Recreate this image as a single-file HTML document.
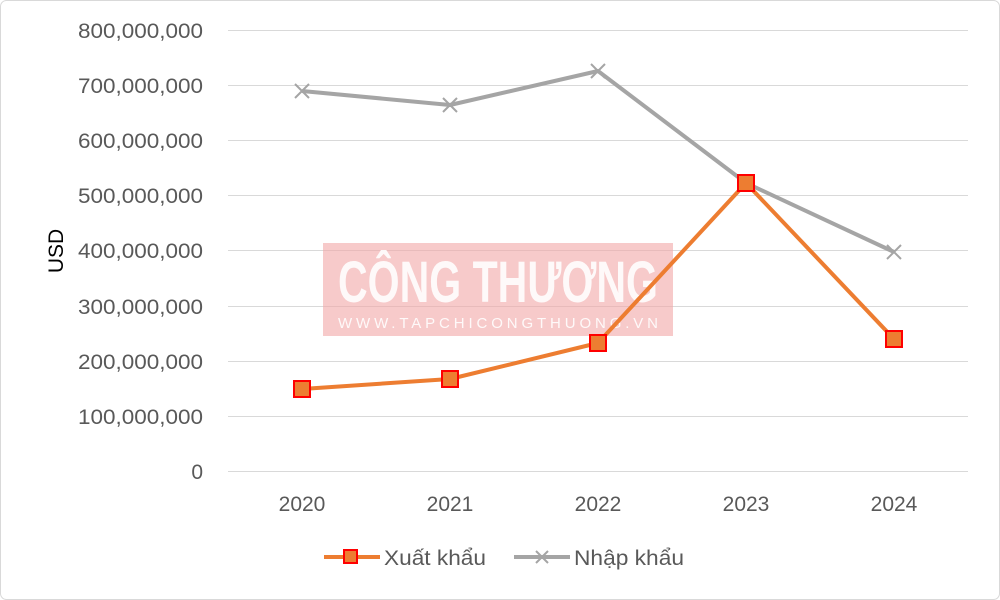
<!DOCTYPE html>
<html><head><meta charset="utf-8"><style>
html,body{margin:0;padding:0;background:#fff;}
svg{display:block;font-family:"Liberation Sans","DejaVu Sans",sans-serif;}
</style></head><body>
<svg width="1000" height="600" viewBox="0 0 1000 600" xmlns="http://www.w3.org/2000/svg">
<rect x="0.5" y="0.5" width="999" height="599" rx="6" fill="#fff" stroke="#d9d9d9"/>
<g stroke="#d9d9d9" stroke-width="1">
<line x1="228" x2="968" y1="30.5" y2="30.5"/>
<line x1="228" x2="968" y1="85.5" y2="85.5"/>
<line x1="228" x2="968" y1="140.5" y2="140.5"/>
<line x1="228" x2="968" y1="195.5" y2="195.5"/>
<line x1="228" x2="968" y1="250.5" y2="250.5"/>
<line x1="228" x2="968" y1="306.5" y2="306.5"/>
<line x1="228" x2="968" y1="361.5" y2="361.5"/>
<line x1="228" x2="968" y1="416.5" y2="416.5"/>
<line x1="228" x2="968" y1="471.5" y2="471.5"/>
</g>
<g font-size="21" fill="#595959" text-anchor="end">
<text x="203" y="38" textLength="125" lengthAdjust="spacingAndGlyphs">800,000,000</text>
<text x="203" y="93" textLength="125" lengthAdjust="spacingAndGlyphs">700,000,000</text>
<text x="203" y="148" textLength="125" lengthAdjust="spacingAndGlyphs">600,000,000</text>
<text x="203" y="203" textLength="125" lengthAdjust="spacingAndGlyphs">500,000,000</text>
<text x="203" y="258" textLength="125" lengthAdjust="spacingAndGlyphs">400,000,000</text>
<text x="203" y="314" textLength="125" lengthAdjust="spacingAndGlyphs">300,000,000</text>
<text x="203" y="369" textLength="125" lengthAdjust="spacingAndGlyphs">200,000,000</text>
<text x="203" y="424" textLength="125" lengthAdjust="spacingAndGlyphs">100,000,000</text>
<text x="203" y="479">0</text>
</g>
<g font-size="21" fill="#595959" text-anchor="middle">
<text x="302" y="511">2020</text>
<text x="450" y="511">2021</text>
<text x="598" y="511">2022</text>
<text x="746" y="511">2023</text>
<text x="894" y="511">2024</text>
</g>
<text transform="translate(63,251) rotate(-90)" font-size="21" fill="#000" text-anchor="middle">USD</text>
<rect x="323" y="243" width="350" height="93" fill="#f2a7a7" opacity="0.6"/>
<text x="498" y="302" font-size="58" font-weight="bold" fill="#fff" text-anchor="middle" textLength="320" lengthAdjust="spacingAndGlyphs" opacity="0.9">CÔNG THƯƠNG</text>
<text x="498" y="328" font-size="15" fill="#fff" text-anchor="middle" textLength="320" lengthAdjust="spacing" opacity="0.9">WWW.TAPCHICONGTHUONG.VN</text>
<polyline points="302,91 450,105 598,71 746,183 894,252" fill="none" stroke="#a5a5a5" stroke-width="4" stroke-linejoin="round"/>
<g stroke="#a5a5a5" stroke-width="2">
<path d="M295,84l14,14M309,84l-14,14"/>
<path d="M443,98l14,14M457,98l-14,14"/>
<path d="M591,64l14,14M605,64l-14,14"/>
<path d="M739,176l14,14M753,176l-14,14"/>
<path d="M887,245l14,14M901,245l-14,14"/>
</g>
<polyline points="302,389 450,379 598,343 746,183 894,339" fill="none" stroke="#ed7d31" stroke-width="4" stroke-linejoin="round"/>
<g fill="#ed7d31" stroke="#ff0000" stroke-width="2">
<rect x="294" y="381" width="16" height="16"/>
<rect x="442" y="371" width="16" height="16"/>
<rect x="590" y="335" width="16" height="16"/>
<rect x="738" y="175" width="16" height="16"/>
<rect x="886" y="331" width="16" height="16"/>
</g>
<line x1="324" y1="557" x2="380" y2="557" stroke="#ed7d31" stroke-width="4"/>
<rect x="344" y="550" width="13" height="13" fill="#ed7d31" stroke="#ff0000" stroke-width="2"/>
<text x="384" y="565" font-size="21" fill="#595959" textLength="102" lengthAdjust="spacingAndGlyphs">Xuất khẩu</text>
<line x1="514" y1="557" x2="570" y2="557" stroke="#a5a5a5" stroke-width="4"/>
<path d="M536,551l12,12M548,551l-12,12" stroke="#a5a5a5" stroke-width="2"/>
<text x="574" y="565" font-size="21" fill="#595959" textLength="110" lengthAdjust="spacingAndGlyphs">Nhập khẩu</text>
</svg>
</body></html>
